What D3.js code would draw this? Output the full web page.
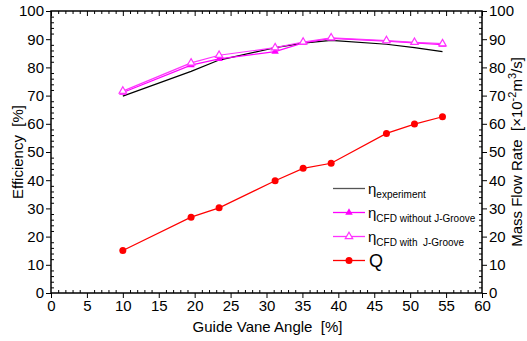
<!DOCTYPE html>
<html><head><meta charset="utf-8">
<script src="https://cdn.jsdelivr.net/npm/d3@7"></script>
<style>body{margin:0;background:#fff}svg{display:block}text{font-family:"Liberation Sans",Arial,sans-serif;fill:#000;white-space:pre}</style>
</head><body><svg id="c" width="527" height="341"></svg>
<script>
const angles = [10, 19.5, 23.4, 31.2, 35.1, 39.0, 46.7, 50.6, 54.5];
const etaExp = [69.8, 78.6, 82.6, 87.0, 88.6, 89.6, 88.2, 87.0, 85.6];
const etaCFDnoGroove = [71.1, 80.8, 83.0, 85.6, 88.7, 90.3, 89.3, 88.7, 88.1];
const etaCFDgroove = [71.6, 81.6, 84.3, 87.0, 89.0, 90.5, 89.5, 88.9, 88.4];
const flowQ = [15.1, 26.9, 30.2, 39.8, 44.2, 46.0, 56.6, 59.9, 62.5];
const xTicks = [0,5,10,15,20,25,30,35,40,45,50,55,60];
const yTicks = [0,10,20,30,40,50,60,70,80,90,100];

const svg = d3.select("#c");
const L=51, R=482, T=11, B=293;
const x = d3.scaleLinear().domain([0,60]).range([L,R]);
const y = d3.scaleLinear().domain([0,100]).range([B,T]);
const y2 = d3.scaleLinear().domain([0,100]).range([B,T]);

const minorX = d3.range(0,61,1).filter(v=>v%5!==0);
const minorY = d3.range(0,101,2).filter(v=>v%10!==0);

function ax(gen, tr, ticks, minor, size, minorSize, labels){
  const g = svg.append("g").attr("transform",tr);
  g.call(gen.tickValues(minor).tickSize(minorSize).tickFormat(""));
  g.selectAll("path").remove();
  const g2 = svg.append("g").attr("transform",tr);
  g2.call((labels?gen.tickFormat(d3.format("d")):gen.tickFormat("")).tickValues(ticks).tickSize(size).tickPadding(2));
  g2.selectAll("path").remove();
  g2.selectAll("text").attr("font-size",15);
  return g2;
}
ax(d3.axisBottom(x), `translate(0,${B})`, xTicks, minorX, 5, -3, true);
ax(d3.axisTop(x), `translate(0,${T})`, xTicks, minorX, -5, -3, false);
ax(d3.axisLeft(y), `translate(${L},0)`, yTicks, minorY, 5, -3, true);
ax(d3.axisRight(y2), `translate(${R},0)`, yTicks, minorY, 5, -3, true);
svg.selectAll(".tick line").attr("stroke","#000");

svg.append("rect").attr("x",L).attr("y",T).attr("width",R-L).attr("height",B-T)
  .attr("fill","none").attr("stroke","#000").attr("stroke-width",1.5);

const line = (arr, sc) => d3.line().x((d,i)=>x(angles[i])).y(d=>sc(d))(arr);
const tri = d3.symbol().type(d3.symbolTriangle).size(24);

svg.append("path").attr("d",line(etaExp,y)).attr("fill","none").attr("stroke","#000").attr("stroke-width",1.2);
svg.append("path").attr("d",line(etaCFDnoGroove,y)).attr("fill","none").attr("stroke","#ff00ff").attr("stroke-width",1.2);
svg.selectAll(".t1").data(etaCFDnoGroove).enter().append("path")
  .attr("d",tri).attr("transform",(d,i)=>`translate(${x(angles[i])},${y(d)})`).attr("fill","#ff00ff");
svg.append("path").attr("d",line(etaCFDgroove,y)).attr("fill","none").attr("stroke","#ff33ff").attr("stroke-width",1.2);
svg.selectAll(".t2").data(etaCFDgroove).enter().append("path")
  .attr("d",tri).attr("transform",(d,i)=>`translate(${x(angles[i])},${y(d)})`).attr("fill","#fff").attr("stroke","#ff33ff").attr("stroke-width",1.2);
svg.append("path").attr("d",line(flowQ,y2)).attr("fill","none").attr("stroke","#ff0000").attr("stroke-width",1.2);
svg.selectAll(".q").data(flowQ).enter().append("circle")
  .attr("cx",(d,i)=>x(angles[i])).attr("cy",d=>y2(d)).attr("r",3.5).attr("fill","#ff0000");

const lg = svg.append("g");
const rows = [
  {y:188.5, c:"#555", m:null, sub:"experiment"},
  {y:212.5, c:"#ff00ff", m:"ft", sub:"CFD without J-Groove"},
  {y:236.5, c:"#ff33ff", m:"ot", sub:"CFD with  J-Groove"},
  {y:260.5, c:"#ff0000", m:"c", sub:null}
];
rows.forEach(r=>{
  lg.append("line").attr("x1",333).attr("x2",365).attr("y1",r.y).attr("y2",r.y).attr("stroke",r.c).attr("stroke-width",1.3);
  if(r.m==="ft") lg.append("path").attr("d",tri).attr("transform",`translate(349,${r.y})`).attr("fill",r.c);
  if(r.m==="ot") lg.append("path").attr("d",tri).attr("transform",`translate(349,${r.y})`).attr("fill","#fff").attr("stroke",r.c).attr("stroke-width",1.2);
  if(r.m==="c") lg.append("circle").attr("cx",349).attr("cy",r.y).attr("r",3.5).attr("fill",r.c);
  if(r.sub){
    const t = lg.append("text").attr("x",368).attr("y",r.y+5).attr("font-size",15);
    t.append("tspan").text("η");
    t.append("tspan").attr("dy",4).attr("font-size",10).text(r.sub);
  } else {
    lg.append("text").attr("x",369).attr("y",r.y+6).attr("font-size",18).text("Q");
  }
});

svg.append("text").attr("x",(L+R)/2+1).attr("y",332).attr("text-anchor","middle").attr("font-size",15).text("Guide Vane Angle  [%]");
svg.append("text").attr("transform",`translate(23,${(T+B)/2}) rotate(-90)`).attr("text-anchor","middle").attr("font-size",15).text("Efficiency  [%]");
const rt = svg.append("text").attr("transform",`translate(522,${(T+B)/2}) rotate(-90)`).attr("text-anchor","middle").attr("font-size",15);
rt.append("tspan").text("Mass Flow Rate  [×10");
rt.append("tspan").attr("dy",-6).attr("font-size",11).text("-2");
rt.append("tspan").attr("dy",6).text("m");
rt.append("tspan").attr("dy",-6).attr("font-size",11).text("3");
rt.append("tspan").attr("dy",6).text("/s]");
</script></body></html>
